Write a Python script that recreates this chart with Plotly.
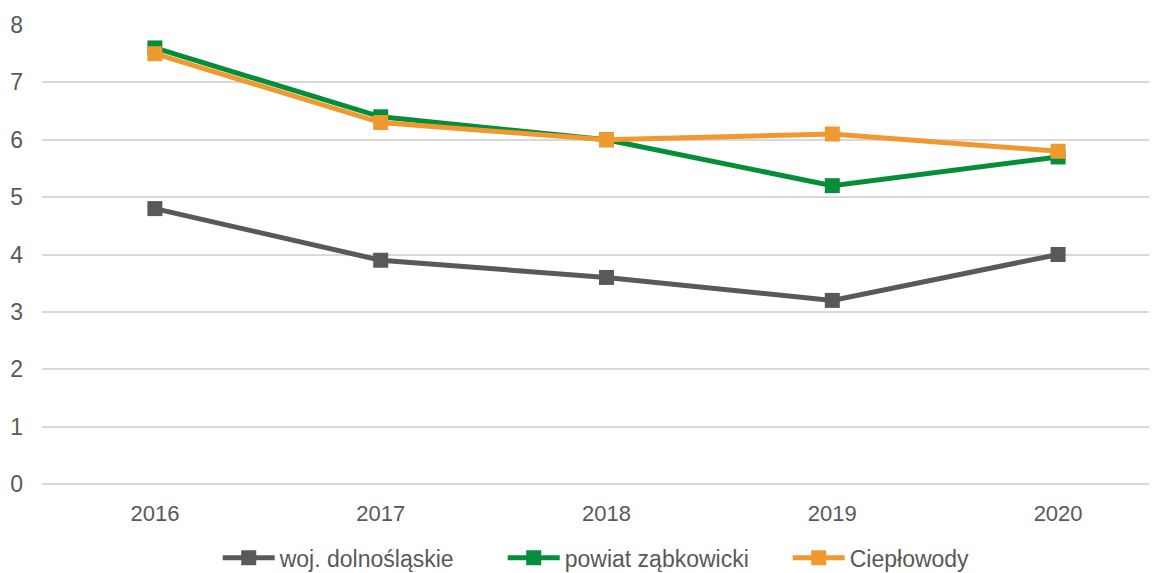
import plotly.graph_objects as go

years = ["2016", "2017", "2018", "2019", "2020"]
woj = [4.8, 3.9, 3.6, 3.2, 4.0]
powiat = [7.6, 6.4, 6.0, 5.2, 5.7]
cieplowody = [7.5, 6.3, 6.0, 6.1, 5.8]

names = ["woj. dolnośląskie", "powiat ząbkowicki", "Ciepłowody"]
colors = ["#595959", "#058E3A", "#F0992E"]

fig = go.Figure()
for name, vals, col in zip(names, [woj, powiat, cieplowody], colors):
    fig.add_trace(go.Scatter(
        x=years, y=vals, name=name, mode="lines+markers",
        line=dict(color=col, width=5),
        marker=dict(symbol="square", size=15, color=col),
    ))

fig.update_layout(
    width=1157, height=565,
    margin=dict(l=34, r=8, t=17, b=89, autoexpand=False),
    paper_bgcolor="white", plot_bgcolor="white",
    font=dict(family="Liberation Sans, Arial, sans-serif", size=22, color="#595959"),
    xaxis=dict(type="category", range=[-0.5, 4.438], showgrid=False, zeroline=False,
               showline=False, ticks="", automargin=False, ticklabelstandoff=14,
               tickfont=dict(size=22, color="#595959")),
    yaxis=dict(range=[0, 8], dtick=1, showgrid=True, gridcolor="#D9D9D9", gridwidth=2,
               zeroline=True, zerolinecolor="#D9D9D9", zerolinewidth=2,
               showline=False, ticks="", ticklabelstandoff=18, automargin=False,
               tickfont=dict(size=23, color="#595959")),
    legend=dict(orientation="h", x=0.541, xanchor="center", y=-0.161, yanchor="middle",
                font=dict(size=23, color="#595959"), itemwidth=52,
                entrywidth=218, tracegroupgap=0),
    showlegend=True,
)

fig.write_html("out.html")
